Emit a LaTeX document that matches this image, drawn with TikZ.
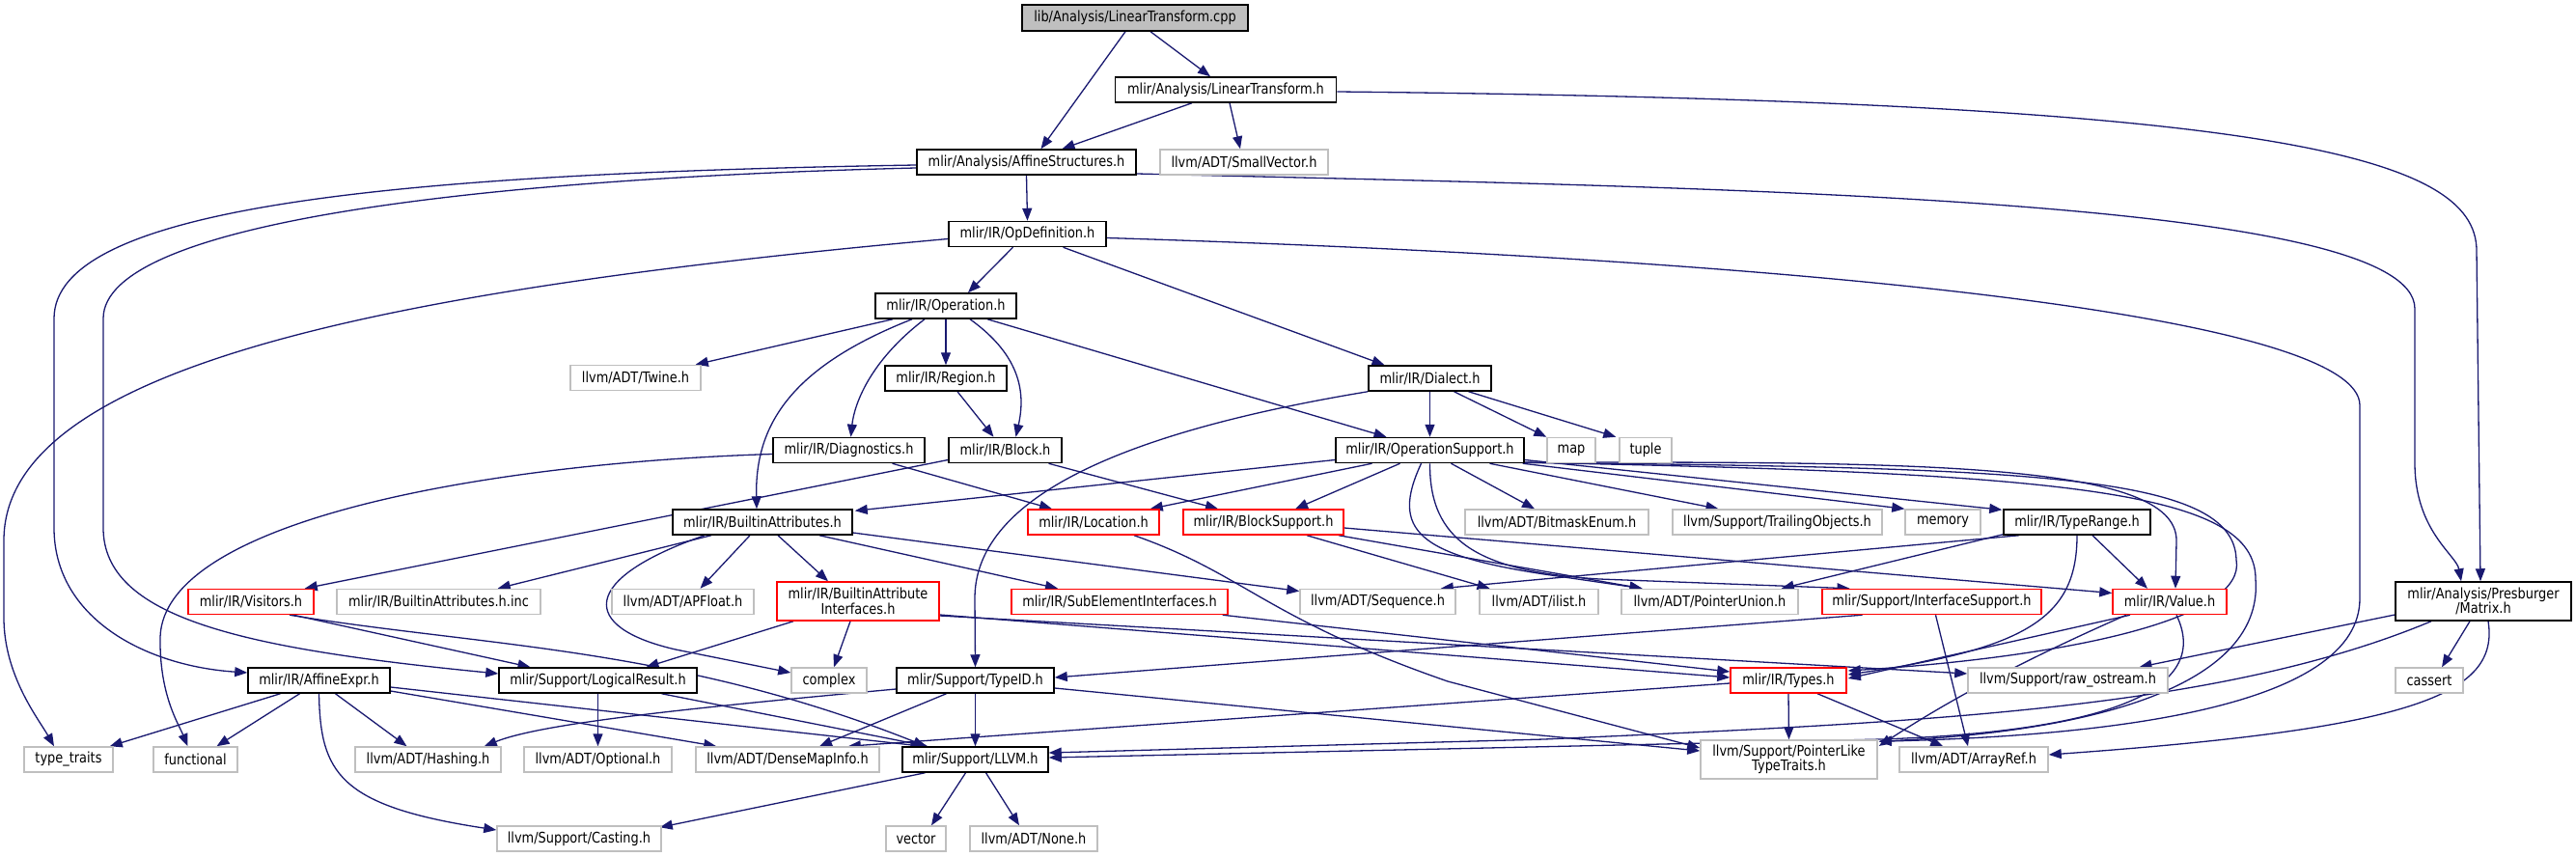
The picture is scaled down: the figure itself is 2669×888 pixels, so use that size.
\documentclass[tikz,border=0pt]{standalone}
\usepackage{fontspec}
\setmainfont{DejaVu Sans}[FakeStretch=0.85]
\usetikzlibrary{arrows.meta,calc}
\definecolor{edgeblue}{HTML}{191970}
\definecolor{gborder}{HTML}{BFBFBF}
\definecolor{rborder}{HTML}{FF0000}
\pgfdeclarelayer{bg}
\pgfdeclarelayer{paper}
\pgfsetlayers{paper,bg,main}
\begin{document}
\begin{tikzpicture}[x=1pt,y=-1pt,
  nd/.style={rectangle,draw=black,fill=white,line width=1.5pt,minimum height=26pt,inner sep=0pt,
     font=\fontsize{15.2}{15.5}\selectfont,text=black,align=center},
  ng/.style={nd,draw=gborder},
  nr/.style={nd,draw=rborder},
  tall/.style={minimum height=40pt},
  ed/.style={draw=edgeblue,line width=1.3pt,-{Triangle[length=13pt,width=10pt]}}]
\begin{pgfonlayer}{paper}
\fill[white] (0,0) rectangle (2669,888);
\end{pgfonlayer}
\useasboundingbox (0,0) rectangle (2669,888);
% nodes
\node[nd,fill=gborder,minimum width=234pt,minimum height=27pt] (cpp) at (1176,18.5) {lib/Analysis/LinearTransform.cpp};
\node[nd,minimum width=229pt] (LT) at (1270,93) {mlir/Analysis/LinearTransform.h};
\node[nd,minimum width=227pt] (AS) at (1063.5,168) {mlir/Analysis/AffineStructures.h};
\node[ng,minimum width=174pt] (SV) at (1289,168) {llvm/ADT/SmallVector.h};
\node[nd,minimum width=163pt] (OD) at (1064.5,242.5) {mlir/IR/OpDefinition.h};
\node[nd,minimum width=146pt] (OP) at (980,317) {mlir/IR/Operation.h};
\node[ng,minimum width=135pt] (TW) at (658.5,391.5) {llvm/ADT/Twine.h};
\node[nd,minimum width=126pt] (RG) at (980,392) {mlir/IR/Region.h};
\node[nd,minimum width=127pt] (DI) at (1481.5,392) {mlir/IR/Dialect.h};
\node[nd,minimum width=157pt] (DG) at (879.5,466.5) {mlir/IR/Diagnostics.h};
\node[nd,minimum width=117pt] (BK) at (1041.5,466.5) {mlir/IR/Block.h};
\node[nd,minimum width=195pt] (OS) at (1481.5,466.5) {mlir/IR/OperationSupport.h};
\node[ng,minimum width=50pt] (nmap) at (1628,466.5) {map};
\node[ng,minimum width=54pt] (ntuple) at (1705,466.5) {tuple};
\node[nd,minimum width=186pt] (BA) at (790,541) {mlir/IR/BuiltinAttributes.h};
\node[nr,minimum width=136pt] (LO) at (1133,541) {mlir/IR/Location.h};
\node[nr,minimum width=166pt] (BS) at (1309,541) {mlir/IR/BlockSupport.h};
\node[ng,minimum width=190pt] (BE) at (1613,541) {llvm/ADT/BitmaskEnum.h};
\node[ng,minimum width=217pt] (TO) at (1841.5,541) {llvm/Support/TrailingObjects.h};
\node[ng,minimum width=78pt] (ME) at (2013,541) {memory};
\node[nd,minimum width=152pt] (TR) at (2152,541) {mlir/IR/TypeRange.h};
\node[nr,minimum width=130pt] (VI) at (260,623.5) {mlir/IR/Visitors.h};
\node[ng,minimum width=211pt] (BAI) at (454.5,623.5) {mlir/IR/BuiltinAttributes.h.inc};
\node[ng,minimum width=147pt] (AF) at (707.5,623.5) {llvm/ADT/APFloat.h};
\node[nr,tall,minimum width=168pt] (BAIF) at (889,623) {mlir/IR/BuiltinAttribute\\Interfaces.h};
\node[nr,minimum width=224pt] (SEI) at (1160,623.5) {mlir/IR/SubElementInterfaces.h};
\node[ng,minimum width=161pt] (SQ) at (1427.5,623.5) {llvm/ADT/Sequence.h};
\node[ng,minimum width=123pt] (IL) at (1594.5,623.5) {llvm/ADT/ilist.h};
\node[ng,minimum width=183pt] (PU) at (1771.5,623.5) {llvm/ADT/PointerUnion.h};
\node[nr,minimum width=227pt] (IS) at (2001.5,623.5) {mlir/Support/InterfaceSupport.h};
\node[nr,minimum width=118pt] (VA) at (2248,623.5) {mlir/IR/Value.h};
\node[nd,tall,minimum width=182pt] (MX) at (2573,623) {mlir/Analysis/Presburger\\/Matrix.h};
\node[nd,minimum width=147pt] (AE) at (330.5,705) {mlir/IR/AffineExpr.h};
\node[nd,minimum width=205pt] (LR) at (619.5,705) {mlir/Support/LogicalResult.h};
\node[ng,minimum width=78pt] (CX) at (859,705) {complex};
\node[nd,minimum width=163pt] (TI) at (1010.5,705) {mlir/Support/TypeID.h};
\node[nr,minimum width=120pt] (TY) at (1853,705) {mlir/IR/Types.h};
\node[ng,minimum width=207pt] (RO) at (2142.5,705) {llvm/Support/raw\_ostream.h};
\node[ng,minimum width=70pt] (CA) at (2517,705) {cassert};
\node[ng,minimum width=92pt] (TT) at (71,787) {type\_traits};
\node[ng,minimum width=87pt] (FN) at (202.5,787) {functional};
\node[ng,minimum width=151pt] (HA) at (443.5,787) {llvm/ADT/Hashing.h};
\node[ng,minimum width=153pt] (OPT) at (619.5,787) {llvm/ADT/Optional.h};
\node[ng,minimum width=190pt] (DM) at (816,787) {llvm/ADT/DenseMapInfo.h};
\node[nd,minimum width=151pt] (LL) at (1010.5,787) {mlir/Support/LLVM.h};
\node[ng,tall,minimum width=183pt] (PL) at (1853.5,787) {llvm/Support/PointerLike\\TypeTraits.h};
\node[ng,minimum width=154pt] (AR) at (2045,787) {llvm/ADT/ArrayRef.h};
\node[ng,minimum width=170pt] (CS) at (600,869) {llvm/Support/Casting.h};
\node[ng,minimum width=62pt] (VE) at (949,869) {vector};
\node[ng,minimum width=132pt] (NO) at (1071,869) {llvm/ADT/None.h};
% edges
\begin{pgfonlayer}{bg}
\draw[ed] ($(cpp.south)+(-10,0)$) -- ($(AS.north)+(15,0)$);
\draw[ed] ($(cpp.south)+(16,0)$) -- ($(LT.north)+(-16,0)$);
\draw[ed] ($(LT.south)+(-35,0)$) -- ($(AS.north)+(37,0)$);
\draw[ed] ($(LT.south)+(4,0)$) -- ($(SV.north)+(-4,0)$);
\draw[ed] ($(LT.east)+(0,2)$) .. controls (2350,105) and (2566,160) .. (2566,260) -- ($(MX.north)+(-3,0)$);
\draw[ed] ($(AS.east)+(0,12)$) .. controls (1800,195) and (2502,205) .. (2502,320) -- (2502,480) .. controls (2502,550) and (2545,575) .. ($(MX.north)+(-23,0)$);
\draw[ed] (AS.south) -- (OD.north);
\draw[ed] ($(AS.west)+(0,3)$) .. controls (400,180) and (56,215) .. (56,330) -- (56,547) .. controls (56,640) and (150,690) .. ($(AE.west)+(0,-8)$);
\draw[ed] ($(AS.west)+(0,6)$) .. controls (500,185) and (107,230) .. (107,330) -- (107,547) .. controls (107,640) and (250,672) .. ($(LR.west)+(0,-7)$);
\draw[ed] ($(OD.south)+(-15,0)$) -- ($(OP.north)+(23,0)$);
\draw[ed] ($(OD.south)+(37,0)$) -- ($(DI.north)+(-47,0)$);
\draw[ed] ($(OD.west)+(0,5)$) .. controls (400,300) and (4,380) .. (4,560) -- (4,640) .. controls (4,700) and (40,745) .. ($(TT.north)+(-15,0)$);
\draw[ed] ($(OD.east)+(0,4)$) .. controls (1900,270) and (2445,330) .. (2445,420) -- (2445,620) .. controls (2445,730) and (2200,762) .. ($(PL.north east)+(1,2)$);
\draw[ed] ($(OP.south)+(-55,0)$) -- ($(TW.north east)+(-6,0)$);
\draw[ed] ($(OP.south)+(-35,0)$) .. controls (820,380) and (782,440) .. ($(BA.north)+(-6,0)$);
\draw[ed] ($(OP.south)+(-22,0)$) .. controls (900,375) and (885,420) .. ($(DG.north)+(2,0)$);
\draw[ed] (OP.south) -- (RG.north);
\draw[ed] ($(OP.south)+(25,0)$) .. controls (1060,370) and (1062,410) .. ($(BK.north)+(11,0)$);
\draw[ed] ($(OP.south)+(43,0)$) -- ($(OS.north)+(-45,0)$);
\draw[ed] (DI.south) -- (OS.north);
\draw[ed] ($(DI.south)+(25,0)$) -- (nmap.north west);
\draw[ed] ($(DI.south)+(40,0)$) -- ($(ntuple.north west)+(-3,0)$);
\draw[ed] (DI.south west) .. controls (1150,450) and (1010,520) .. (1010,620) -- (TI.north);
\draw[ed] ($(RG.south)+(12,0)$) -- ($(BK.north)+(-12,0)$);
\draw[ed] ($(DG.south)+(45,0)$) -- ($(LO.north)+(-43,0)$);
\draw[ed] ($(DG.west)+(0,4)$) .. controls (500,480) and (170,540) .. (166,660) .. controls (165,720) and (185,750) .. ($(FN.north)+(-8,0)$);
\draw[ed] ($(BK.south)+(45,0)$) -- ($(BS.north)+(-47,0)$);
\draw[ed] ($(BK.west)+(0,10)$) -- ($(VI.north east)+(-10,0)$);
\draw[ed] ($(OS.west)+(0,10)$) -- ($(BA.north east)+(2,2)$);
\draw[ed] ($(OS.south)+(-60,0)$) -- ($(LO.north east)+(-10,0)$);
\draw[ed] ($(OS.south)+(-31,0)$) -- ($(BS.north)+(33,0)$);
\draw[ed] ($(OS.south)+(-9,0)$) .. controls (1440,550) and (1470,575) .. (1600,595) -- ($(PU.north)+(-70,0)$);
\draw[ed] (OS.south) .. controls (1481,560) and (1530,592) .. (1657,600) -- ($(IS.north)+(-85,0)$);
\draw[ed] ($(OS.south)+(22,0)$) -- ($(BE.north)+(-23,0)$);
\draw[ed] ($(OS.south)+(62,0)$) -- ($(TO.north)+(-61,0)$);
\draw[ed] ($(OS.south east)+(-2,0)$) -- (ME.north west);
\draw[ed] ($(OS.east)+(0,10)$) -- ($(TR.north west)+(-1,1)$);
\draw[ed] ($(OS.south east)+(0,-1)$) .. controls (2000,478) and (2255,480) .. (2255,560) -- ($(VA.north)+(6,0)$);
\draw[ed] ($(OS.south east)+(0,-1)$) .. controls (2100,485) and (2315,490) .. (2317,580) .. controls (2328,640) and (2150,680) .. ($(TY.east)+(1,-10)$);
\draw[ed] ($(OS.south east)+(0,-1)$) .. controls (2150,490) and (2337,510) .. (2337,600) .. controls (2345,700) and (2200,756) .. ($(PL.north east)+(1,2)$);
\draw[ed] ($(BS.east)+(0,6)$) -- ($(VA.west)+(0,-9)$);
\draw[ed] ($(BS.south)+(45,0)$) -- ($(IL.north)+(-51,0)$);
\draw[ed] ($(BS.south)+(78,0)$) -- ($(PU.north)+(-70,0)$);
\draw[ed] ($(LO.south)+(42,0)$) .. controls (1290,595) and (1310,640) .. (1500,706) -- ($(PL.west)+(0,-12)$);
\draw[ed] ($(BA.south)+(-53,0)$) -- ($(BAI.north east)+(-45,0)$);
\draw[ed] ($(BA.south)+(-60,0)$) .. controls (600,600) and (600,650) .. (700,673) -- ($(CX.west)+(0,-8)$);
\draw[ed] ($(BA.south)+(-13,0)$) -- ($(AF.north)+(18,0)$);
\draw[ed] ($(BA.south)+(16,0)$) -- ($(BAIF.north)+(-31,0)$);
\draw[ed] ($(BA.south)+(59,0)$) -- ($(SEI.north)+(-64,0)$);
\draw[ed] ($(BA.east)+(0,11)$) -- ($(SQ.west)+(0,-11)$);
\draw[ed] (LR.south) -- (OPT.north);
\draw[ed] ($(LR.south)+(66,0)$) -- ($(LL.north west)+(27,0)$);
\draw[ed] ($(AE.south)+(-40,0)$) -- ($(TT.north east)+(-4,0)$);
\draw[ed] ($(AE.south)+(-20,0)$) -- ($(FN.north)+(22,0)$);
\draw[ed] ($(AE.south)+(17,0)$) -- ($(HA.north)+(-22,0)$);
\draw[ed] (AE.south) .. controls (332,800) and (350,835) .. ($(CS.west)+(0,-9)$);
\draw[ed] ($(AE.east)+(0,7)$) -- ($(LL.north west)+(22,0)$);
\draw[ed] ($(AE.east)+(0,11)$) -- ($(DM.north west)+(22,0)$);
\draw[ed] (TI.south) -- (LL.north);
\draw[ed] ($(TI.south)+(-30,0)$) -- ($(DM.north)+(33,0)$);
\draw[ed] ($(TI.west)+(0,9)$) .. controls (700,735) and (560,750) .. ($(HA.north east)+(-18,0)$);
\draw[ed] ($(TI.east)+(0,8)$) -- ($(PL.west)+(0,-9)$);
\draw[ed] ($(LL.south)+(-52,0)$) -- ($(CS.north east)+(-2,2)$);
\draw[ed] ($(LL.south)+(-10,0)$) -- ($(VE.north)+(16,0)$);
\draw[ed] ($(LL.south)+(11,0)$) -- ($(NO.north)+(-15,0)$);
\draw[ed] ($(VI.south)+(44,0)$) -- ($(LR.north)+(-70,0)$);
\draw[ed] ($(VI.south)+(40,0)$) .. controls (500,670) and (700,670) .. ($(LL.north west)+(25,0)$);
\draw[ed] ($(BAIF.south)+(-67,0)$) -- ($(LR.north)+(50,0)$);
\draw[ed] ($(BAIF.south)+(-8,0)$) -- ($(CX.north)+(5,0)$);
\draw[ed] ($(BAIF.east)+(0,14)$) -- ($(TY.west)+(0,-3)$);
\draw[ed] ($(BAIF.east)+(0,15)$) -- ($(RO.west)+(0,-7)$);
\draw[ed] ($(SEI.south east)+(-6,0)$) -- ($(TY.west)+(0,-9)$);
\draw[ed] ($(IS.south)+(-72,0)$) -- ($(TI.east)+(0,-3)$);
\draw[ed] ($(IS.south)+(4,0)$) -- ($(AR.north)+(-6,0)$);
\draw[ed] ($(TR.south west)+(0,-1)$) -- ($(PU.north east)+(-18,0)$);
\draw[ed] ($(TR.south)+(-60,0)$) -- ($(SQ.north east)+(-16,0)$);
\draw[ed] (TR.south) .. controls (2152,640) and (2100,672) .. ($(TY.east)+(1,-6)$);
\draw[ed] ($(TR.south)+(16,0)$) -- ($(VA.north)+(-23,0)$);
\draw[ed] ($(VA.south)+(-41,0)$) -- ($(TY.east)+(1,-2)$);
\draw[ed] ($(VA.south)+(-45,0)$) .. controls (2060,700) and (1990,745) .. ($(PL.east)+(1,-14)$);
\draw[ed] ($(VA.south)+(7,0)$) .. controls (2290,710) and (2200,757) .. (1950,766) -- ($(LL.east)+(0,-2)$);
\draw[ed] (TY.south) -- (PL.north);
\draw[ed] ($(TY.south)+(30,0)$) -- ($(AR.north west)+(46,0)$);
\draw[ed] ($(TY.west)+(0,3)$) -- ($(DM.north east)+(-33,0)$);
\draw[ed] ($(MX.west)+(0,14)$) -- ($(RO.north)+(74,0)$);
\draw[ed] ($(MX.south)+(-54,0)$) .. controls (2300,735) and (2000,748) .. (1600,766) -- ($(LL.east)+(0,-7)$);
\draw[ed] ($(MX.south)+(-14,0)$) -- ($(CA.north)+(13,0)$);
\draw[ed] ($(MX.south)+(5,0)$) .. controls (2590,720) and (2500,755) .. ($(AR.east)+(0,-5)$);
\end{pgfonlayer}
\end{tikzpicture}
\end{document}
